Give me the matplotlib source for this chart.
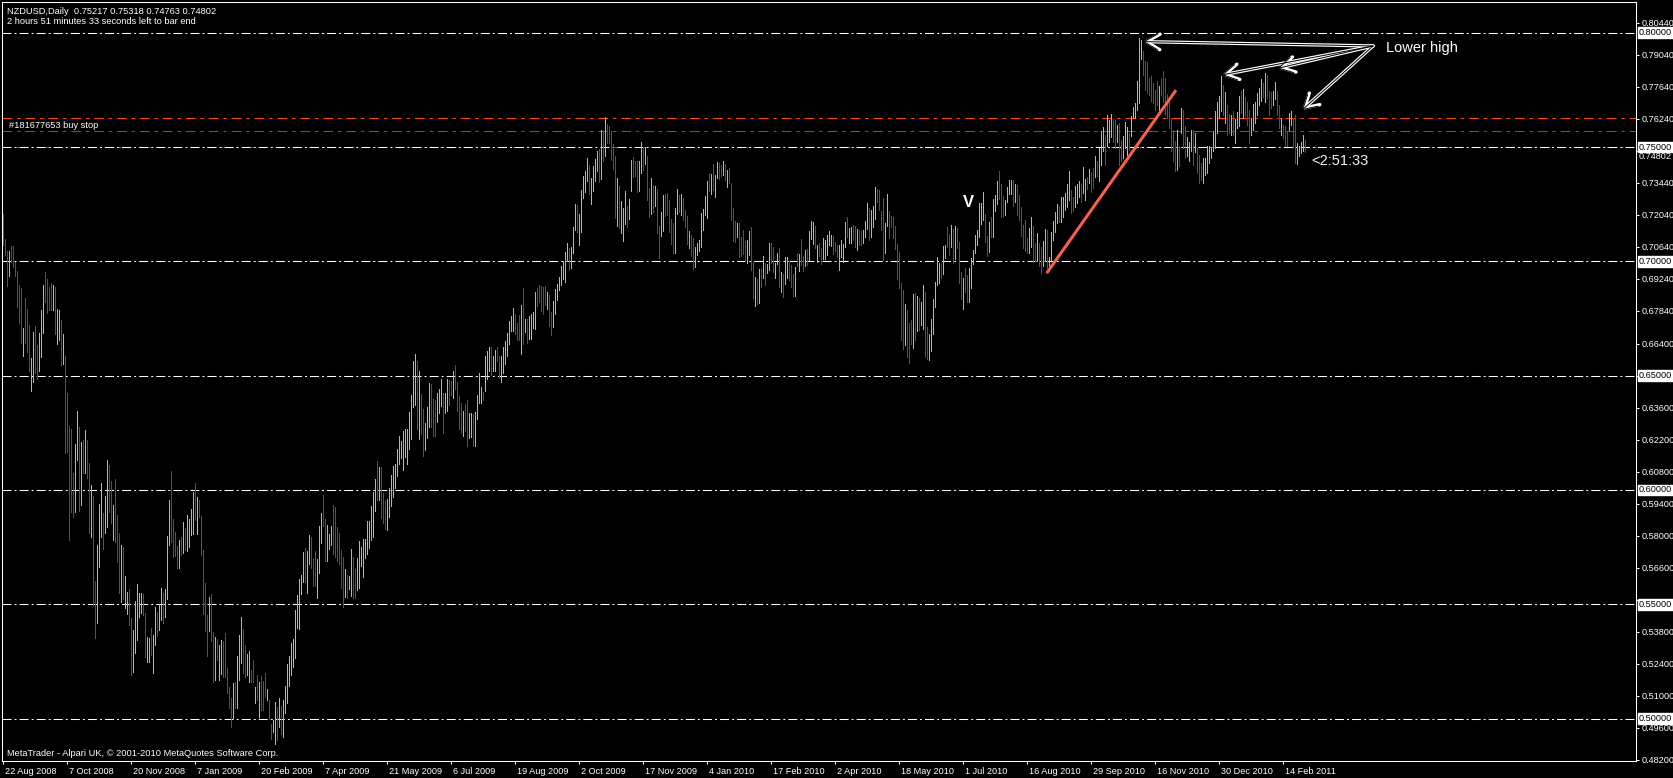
import numpy as np
import matplotlib
matplotlib.use("Agg")
import matplotlib.pyplot as plt
import matplotlib.transforms as mtransforms

plt.rcParams["font.family"] = ["Liberation Sans", "DejaVu Sans"]
plt.rcParams["lines.scale_dashes"] = False

W, H = 1674, 778

# NZDUSD daily bars, prices in pips (x 0.0001)
# Aug 2008 - Dec 2008 slide
high_a = [7207, 7096, 7045, 7045, 7067, 7067, 6999, 6958, 6896, 6885,
          6708, 6840, 6791, 6721, 6577, 6691, 6717, 6634, 6685, 6787,
          6896, 6953, 6921, 6889, 6904, 6896, 6888, 6791, 6787, 6743,
          6682, 6586, 6423, 6280, 6267, 6074, 6201, 6345, 6275, 6210,
          6218, 6262, 6218, 6118, 6022, 5974, 5602, 5759, 5939, 6029,
          5899, 5974, 6131, 6109, 6039, 5934, 6048, 5890, 5812, 5759,
          5750, 5624, 5554, 5565, 5440, 5387, 5514, 5589, 5549, 5549,
          5543, 5460, 5357, 5350, 5396, 5366, 5488, 5466, 5501, 5570,
          5548, 5568, 5799, 5956, 6083, 5873, 5816, 5755, 5781, 5794,
          5860, 5834, 5890, 5873, 5917, 5991, 6030, 5969, 5956, 5886,
          5737]
low_a = [7071, 7028, 6894, 6936, 6999, 6977, 6936, 6802, 6729, 6644,
         6587, 6641, 6603, 6520, 6434, 6474, 6513, 6487, 6520, 6583,
         6688, 6824, 6772, 6787, 6787, 6787, 6682, 6638, 6654, 6546,
         6551, 6163, 6167, 5781, 5905, 5883, 5905, 6131, 5909, 5934,
         6073, 6076, 6051, 5813, 5796, 5497, 5350, 5417, 5664, 5796,
         5743, 5813, 5839, 5905, 5854, 5781, 5774, 5683, 5548, 5511,
         5523, 5482, 5457, 5409, 5191, 5205, 5285, 5344, 5443, 5460,
         5453, 5271, 5249, 5249, 5278, 5201, 5322, 5361, 5387, 5431,
         5417, 5443, 5523, 5759, 5774, 5708, 5711, 5660, 5660, 5715,
         5723, 5737, 5734, 5752, 5803, 5807, 5869, 5807, 5880, 5715,
         5457]
dir_a = ("rrrgrrrrrr" "grrrggrrgg" "grrrrgrggr" "grrrrrggrg" "rgrrgrrggg"
         "rggrrgrrrg" "rggrrggggg" "rrggrggrgg" "rgggrrrrgr" "grggggrgrr" "r")

# Jan 2009 - Mar 2009 bottom
high_b = [5593, 5453, 5532, 5545, 5379, 5358, 5346, 5322, 5344, 5341,
          5373, 5220, 5136, 5089, 5154, 5161, 5273, 5366, 5443, 5390,
          5320, 5281, 5297, 5212, 5256, 5139, 5189, 5161, 5187, 5162,
          5197, 5127, 5080, 4978, 4993, 5073, 5051, 5091, 5056, 5080,
          5142, 5238, 5273, 5332, 5349, 5475, 5540]
low_b = [5383, 5274, 5383, 5339, 5160, 5168, 5256, 5168, 5194, 5183,
         5183, 5113, 5048, 4961, 5004, 5044, 5044, 5168, 5241, 5200,
         5183, 5190, 5161, 5159, 5161, 5066, 5080, 5007, 5037, 5037,
         5095, 5080, 5000, 4912, 4942, 4890, 4905, 4963, 4934, 4920,
         5022, 5066, 5142, 5189, 5227, 5263, 5395]
dir_b = "rrgrrgrggr" "rrrrgrgggr" "rggrrgrgrr" "rgrrggrgrg" "ggggggg"

# Mar 2009 - Sep 2009 rally
high_c = [5612, 5628, 5728, 5746, 5732, 5803, 5792, 5698, 5732, 5698,
          5840, 5899, 5978, 5873, 5846, 5806, 5840, 5935, 5924, 5837,
          5810, 5737, 5706, 5656, 5628, 5625, 5742, 5706, 5654, 5700,
          5776, 5749, 5784, 5784, 5862, 5865, 5930, 5990, 6049, 6127,
          6099, 6099, 5987, 5956, 5959, 6010, 6065, 6104, 6112, 6180,
          6237, 6213, 6256, 6268, 6268, 6340, 6417, 6565, 6595, 6565,
          6518, 6420, 6353, 6292, 6362, 6467, 6463, 6399, 6393, 6424,
          6440, 6487, 6424, 6424, 6487, 6479, 6476, 6521, 6546, 6473,
          6412, 6380, 6346, 6377, 6393, 6337, 6337, 6331, 6339, 6417,
          6512, 6451, 6429, 6584, 6606, 6627, 6624, 6585, 6612, 6627,
          6585, 6587, 6626, 6650, 6687, 6741, 6760, 6796, 6768, 6729,
          6765, 6807, 6882, 6746, 6749, 6760, 6771, 6777, 6865, 6884,
          6896, 6893, 6888, 6893, 6865, 6854, 6777, 6826, 6877, 6900,
          6932, 6979, 7002, 7040, 7080, 7059, 7063, 7152]
low_c = [5393, 5545, 5596, 5599, 5549, 5674, 5659, 5578, 5581, 5526,
         5635, 5768, 5843, 5690, 5687, 5740, 5760, 5718, 5706, 5687,
         5674, 5573, 5487, 5531, 5526, 5565, 5534, 5526, 5526, 5560,
         5573, 5667, 5620, 5700, 5721, 5745, 5780, 5792, 5909, 5956,
         5956, 5878, 5854, 5831, 5823, 5880, 5929, 5971, 6009, 6060,
         6112, 6140, 6088, 6143, 6115, 6180, 6224, 6362, 6370, 6268,
         6224, 6245, 6149, 6174, 6229, 6274, 6273, 6237, 6234, 6296,
         6335, 6365, 6249, 6338, 6346, 6370, 6413, 6403, 6440, 6343,
         6268, 6250, 6237, 6257, 6190, 6229, 6231, 6190, 6190, 6312,
         6381, 6379, 6393, 6434, 6487, 6521, 6503, 6518, 6521, 6565,
         6490, 6471, 6510, 6550, 6585, 6638, 6696, 6696, 6681, 6654,
         6656, 6596, 6640, 6690, 6641, 6659, 6662, 6709, 6706, 6806,
         6823, 6784, 6770, 6807, 6792, 6718, 6677, 6713, 6771, 6830,
         6873, 6896, 6924, 6909, 7002, 6962, 6971, 7037]
dir_c = ("gggrggrrrg" "ggrrgggrrr" "rrrgrggrrg" "gggggggggr" "grrrgggggg"
         "gggggggggr" "grrgggrrrg" "ggrggrrgrr" "rrgrrggrgg" "ggrgggrggr"
         "rgggggggrr" "rgrgrggggr" "rrrrgrrggg" "gggggrgg")

# Sep 2009 - Apr 2010 range
high_d = [7251, 7247, 7207, 7312, 7374, 7396, 7453, 7421, 7365, 7415,
          7448, 7483, 7491, 7576, 7568, 7631, 7602, 7593, 7568, 7514,
          7462, 7365, 7330, 7264, 7233, 7308, 7242, 7273, 7444, 7457,
          7437, 7440, 7440, 7523, 7500, 7498, 7462, 7321, 7365, 7333,
          7328, 7317, 7155, 7216, 7290, 7295, 7299, 7269, 7185, 7168,
          7233, 7317, 7290, 7295, 7277, 7225, 7198, 7133, 7114, 7100,
          7062, 7080, 7093, 7212, 7229, 7286, 7352, 7385, 7383, 7426,
          7378, 7435, 7429, 7421, 7440, 7426, 7399, 7409, 7343, 7233,
          7176, 7168, 7168, 7108, 7137, 7089, 7093, 7133, 7150, 6997,
          6931, 6921, 6966, 6966, 7023, 6992, 6988, 7080, 7080, 7062,
          6994, 7036, 7058, 6953, 6945, 7019, 7019, 7001, 6983, 6944,
          6975, 7035, 7032, 7097, 7023, 7049, 7054, 7133, 7176, 7172,
          7155, 7071, 7078, 7058, 7102, 7093, 7115, 7133, 7115, 7112,
          7086, 7071, 7071, 7093, 7076]
low_d = [7137, 7130, 7073, 7128, 7279, 7304, 7353, 7295, 7251, 7308,
         7352, 7396, 7345, 7361, 7437, 7459, 7517, 7517, 7444, 7405,
         7190, 7154, 7146, 7125, 7089, 7162, 7150, 7187, 7308, 7369,
         7371, 7305, 7309, 7388, 7400, 7426, 7266, 7195, 7207, 7216,
         7242, 7124, 7016, 7112, 7133, 7200, 7203, 7128, 7076, 7038,
         7038, 7209, 7214, 7204, 7181, 7150, 7076, 7060, 7024, 6966,
         6976, 7027, 7045, 7064, 7137, 7203, 7190, 7308, 7295, 7312,
         7283, 7364, 7359, 7374, 7378, 7356, 7326, 7342, 7181, 7089,
         7086, 7108, 7020, 7024, 7033, 7002, 6991, 7029, 6962, 6839,
         6805, 6812, 6817, 6888, 6928, 6896, 6950, 6962, 6991, 6954,
         6928, 6988, 6887, 6866, 6843, 6900, 6925, 6919, 6887, 6847,
         6849, 6979, 6957, 6986, 6956, 6981, 6983, 7005, 7098, 7074,
         7058, 6998, 7024, 6989, 7010, 7011, 7027, 7073, 7067, 7033,
         7046, 7017, 6962, 7020, 6998]
dir_d = ("grgggggrgg" "ggrgrgrrrr" "rgrgggrggr" "rrggrgrrgr" "grrggrrrrr"
         "ggrgrrrgrr" "gggggggrgr" "ggrrgrgrrr" "rgrrrrggrr" "grgrgrggrr"
         "ggrgrggrrr" "grgrrgrggg" "rgrrgggggr" "rrggg")

# Apr 2010 - Oct 2010 dip and recovery
high_e = [7172, 7194, 7146, 7150, 7159, 7155, 7141, 7137, 7133, 7137,
          7176, 7255, 7233, 7225, 7242, 7324, 7317, 7312, 7220, 7277,
          7169, 7295, 7220, 7197, 7194, 7155, 7076, 7040, 6905, 6874,
          6815, 6786, 6728, 6742, 6856, 6861, 6847, 6839, 6821, 6896,
          6865, 6712, 6681, 6747, 6833, 6910, 7020, 6992, 6994, 7067,
          7071, 7150, 7119, 7159, 7141, 7155, 7146, 7084, 6953, 6926,
          6972, 6940, 6972, 7014, 7049, 7114, 7137, 7255, 7255, 7304,
          7209, 7111, 7172, 7194, 7274, 7290, 7350, 7396, 7339, 7285,
          7269, 7327, 7356, 7356, 7356, 7336, 7333, 7289, 7236, 7159,
          7179, 7102, 7147, 7194, 7156, 7080, 7122, 7080, 7062, 7087,
          7141, 7137, 7017, 7128, 7176, 7216, 7251, 7241, 7282, 7283,
          7299, 7339, 7396, 7312, 7283, 7330, 7340, 7352, 7337, 7413,
          7362, 7368, 7405, 7391, 7409, 7462, 7440, 7497]
low_e = [7064, 7108, 7081, 7081, 7093, 7064, 7049, 7070, 7070, 7078,
         7108, 7140, 7093, 7108, 7149, 7187, 7260, 7225, 7137, 7005,
         7035, 7155, 7100, 7150, 7100, 7055, 6921, 6883, 6656, 6615,
         6634, 6581, 6555, 6640, 6619, 6654, 6695, 6698, 6720, 6706,
         6581, 6573, 6568, 6608, 6684, 6801, 6896, 6906, 6928, 6945,
         7013, 7064, 7027, 7064, 6991, 7008, 7057, 6906, 6836, 6792,
         6866, 6823, 6823, 6884, 6990, 7038, 7071, 7108, 7165, 7179,
         7086, 7024, 7040, 7105, 7108, 7222, 7252, 7273, 7195, 7200,
         7203, 7258, 7293, 7295, 7242, 7260, 7203, 7181, 7111, 7059,
         7045, 7035, 7036, 7064, 6997, 7001, 7001, 6981, 6947, 6979,
         7000, 6969, 6962, 7005, 7093, 7130, 7166, 7171, 7171, 7195,
         7225, 7239, 7269, 7213, 7222, 7239, 7254, 7283, 7261, 7298,
         7269, 7317, 7342, 7301, 7320, 7368, 7375, 7353]
dir_e = ("grggrrgrrg" "ggrgggrrrr" "ggrrrrrrrr" "grrrgrgrgg" "rrggggggrg"
         "grrgrgrrrg" "rrgggggggg" "rrgrgggrrr" "ggggrgrrrr" "rrggrrgrrg"
         "grgggggrgg" "gggrrgggrg" "grgrrgrg")

# Oct 2010 - Mar 2011 top
high_f = [7568, 7586, 7554, 7641, 7618, 7646, 7624, 7619, 7598, 7603,
          7530, 7548, 7609, 7589, 7560, 7634, 7674, 7694, 7788, 7975,
          7970, 7919, 7875, 7871, 7802, 7810, 7780, 7750, 7788, 7766,
          7798, 7831, 7802, 7732, 7700, 7627, 7576, 7527, 7576, 7503,
          7671, 7663, 7590, 7543, 7524, 7574, 7573, 7562, 7495, 7466,
          7428, 7451, 7451, 7503, 7503, 7501, 7568, 7656, 7697, 7725,
          7811, 7773, 7741, 7685, 7646, 7641, 7656, 7622, 7653, 7725,
          7747, 7755, 7717, 7697, 7663, 7627, 7688, 7697, 7736, 7758,
          7796, 7779, 7824, 7817, 7747, 7741, 7747, 7785, 7747, 7685,
          7627, 7598, 7590, 7568, 7649, 7656, 7627, 7641, 7517, 7503,
          7524, 7551, 7532]
low_f = [7422, 7481, 7422, 7503, 7524, 7542, 7524, 7495, 7524, 7422,
         7437, 7451, 7495, 7466, 7488, 7546, 7627, 7627, 7663, 7693,
         7883, 7817, 7751, 7736, 7729, 7700, 7693, 7663, 7685, 7663,
         7729, 7697, 7641, 7627, 7583, 7481, 7437, 7393, 7400, 7415,
         7561, 7495, 7451, 7459, 7437, 7481, 7422, 7478, 7386, 7342,
         7356, 7342, 7378, 7386, 7430, 7451, 7481, 7495, 7561, 7627,
         7656, 7641, 7605, 7554, 7561, 7554, 7554, 7517, 7583, 7590,
         7649, 7627, 7634, 7598, 7517, 7554, 7576, 7605, 7641, 7685,
         7703, 7717, 7697, 7715, 7641, 7671, 7685, 7712, 7641, 7583,
         7554, 7539, 7503, 7503, 7576, 7598, 7495, 7430, 7425, 7459,
         7473, 7481, 7476]
dir_f = ("ggrgggrrgr" "rgggrggggg" "grrrrrrrrg" "rrrrrrrrgr" "grrgggrgrr"
         "rggggggggg" "grgrrgrggg" "rgrrrggggg" "grgrrrggrr" "grrrggrrgg" "ggr")

date_labels = ["22 Aug 2008", "7 Oct 2008", "20 Nov 2008", "7 Jan 2009", "20 Feb 2009",
               "7 Apr 2009", "21 May 2009", "6 Jul 2009", "19 Aug 2009", "2 Oct 2009",
               "17 Nov 2009", "4 Jan 2010", "17 Feb 2010", "2 Apr 2010", "18 May 2010",
               "1 Jul 2010", "16 Aug 2010", "29 Sep 2010", "16 Nov 2010", "30 Dec 2010",
               "14 Feb 2011"]
bars_per_label = 32

price_ticks = [0.80440, 0.79040, 0.77640, 0.76240, 0.74840, 0.73440, 0.72040, 0.70640,
               0.69240, 0.67840, 0.66400, 0.65000, 0.63600, 0.62200, 0.60800, 0.59400,
               0.58000, 0.56600, 0.55200, 0.53800, 0.52400, 0.51000, 0.49600, 0.48200]
hidden_ticks = [0.74840, 0.55200]   # covered by the boxed level labels
round_levels = [0.80, 0.75, 0.70, 0.65, 0.60, 0.55, 0.50]
stop_price = 0.7626
order_price = 0.7569
bid_price = 0.74802

# drawn objects on the chart (bar index, price)
trend_start = (521.6, 0.6948)
trend_end = (586.25, 0.7749)
arrow_from = (684.75, 0.7942)
arrow_tips = [(569.75, 0.7961), (609.1, 0.7815), (637.1, 0.7844), (649.25, 0.7661)]

UP, DOWN = "#9be21e", "#f01010"

highs = np.array(high_a + high_b + high_c + high_d + high_e + high_f) / 10000.0
lows = np.array(low_a + low_b + low_c + low_d + low_e + low_f) / 10000.0
dirs = dir_a + dir_b + dir_c + dir_d + dir_e + dir_f
n = min(len(highs), len(lows), len(dirs))
xs = np.arange(n)
cols = [UP if d == "g" else DOWN for d in dirs[:n]]

fig = plt.figure(figsize=(W / 100, H / 100), dpi=100, facecolor="black")
ax = fig.add_axes([2 / W, 17 / H, 1634 / W, 759 / H])
ax.set_facecolor("black")
ax.set_xlim(-0.75, 816.25)
ax.set_ylim(0.48141, 0.81343)
for s in ax.spines.values():
    s.set_color("white")
    s.set_linewidth(0.75)

dashdot = (6.5, 2.2, 1.4, 2.2)
# red line hidden under the 0.75 level
ax.axhline(0.7499, color="#e03010", lw=0.75, dashes=(1.5, 9.0), zorder=1)
for lv in round_levels:
    ax.axhline(lv, color="white", lw=0.75, dashes=dashdot, zorder=2)
ax.axhline(stop_price, color="#ff4a10", lw=0.75, dashes=(7.0, 3.5, 2.5, 3.5), zorder=2)
ax.axhline(order_price, color="#109010", lw=0.75, dashes=(7.0, 3.5, 2.5, 3.5), zorder=2)

ax.vlines(xs, lows[:n], highs[:n], colors=cols, linewidth=0.6,
          antialiased=False, zorder=3)

ax.plot([trend_start[0], trend_end[0]], [trend_start[1], trend_end[1]],
        color="#f8604a", lw=2.2, solid_capstyle="butt", zorder=4)

# hollow white arrows (white stroke with a thin black core)
for lw, col, z in [(2.4, "white", 5), (0.7, "black", 6)]:
    for tip in arrow_tips:
        ax.annotate("", xy=tip, xytext=arrow_from,
                    arrowprops=dict(arrowstyle="->,head_length=0.7,head_width=0.4",
                                    color=col, lw=lw, shrinkA=0, shrinkB=0,
                                    mutation_scale=14), zorder=z)
ax.text(arrow_from[0] + 6.5, arrow_from[1] - 0.0009, "Lower high", color="white",
        fontsize=10.5, ha="left", va="center", zorder=5)
ax.text(482.6, 0.7257, "V", color="white", fontsize=12, fontweight="bold",
        ha="center", va="center", zorder=5)
ax.text(n + 2, 0.7439, "<2:51:33", color="#eef3ff", fontsize=10.5,
        ha="left", va="center", zorder=5)

# axes ticks
ax.yaxis.tick_right()
ax.set_yticks(price_ticks)
ax.set_yticklabels(["" if any(abs(v - h) < 1e-6 for h in hidden_ticks) else f"{v:.5f}"
                    for v in price_ticks])
ax.tick_params(axis="y", direction="out", length=2.2, width=0.75, colors="white",
               labelsize=6.6, pad=2)
ax.set_xticks(np.arange(len(date_labels)) * bars_per_label)
ax.set_xticklabels(date_labels)
ax.tick_params(axis="x", direction="out", length=2.5, width=0.75, colors="white",
               labelsize=6.6, pad=1.5)
shift = mtransforms.ScaledTranslation(2 / 100, 0, fig.dpi_scale_trans)
for lbl in ax.get_xticklabels():
    lbl.set_horizontalalignment("left")
    lbl.set_transform(lbl.get_transform() + shift)

# boxed level labels on the price scale
box_tr = mtransforms.offset_copy(
    mtransforms.blended_transform_factory(ax.transAxes, ax.transData),
    fig=fig, x=3, y=0, units="dots")
ax.text(1.0, bid_price - 0.0020, f"{bid_price:.5f}", transform=box_tr, color="white",
        fontsize=6.6, ha="left", va="center", clip_on=False, zorder=6)
for lv in round_levels:
    ax.text(1.0, lv, f"{lv:.5f}", transform=box_tr, color="black", fontsize=6.6,
            ha="left", va="center", clip_on=False, zorder=7,
            bbox=dict(facecolor="white", edgecolor="white", pad=0.6))

# header and footer texts
fig.text(7 / W, 1 - 14 / H, "NZDUSD,Daily  0.75217 0.75318 0.74763 0.74802",
         color="white", fontsize=6.7, ha="left", va="baseline")
fig.text(7 / W, 1 - 24 / H, "2 hours 51 minutes 33 seconds left to bar end",
         color="white", fontsize=6.7, ha="left", va="baseline")
fig.text(9 / W, 1 - 128 / H, "#181677653 buy stop",
         color="white", fontsize=6.7, ha="left", va="baseline")
fig.text(7 / W, 1 - 756 / H, "MetaTrader - Alpari UK, \u00a9 2001-2010 MetaQuotes Software Corp.",
         color="white", fontsize=6.7, ha="left", va="baseline")

fig.savefig("out.png", dpi=100, facecolor="black")
